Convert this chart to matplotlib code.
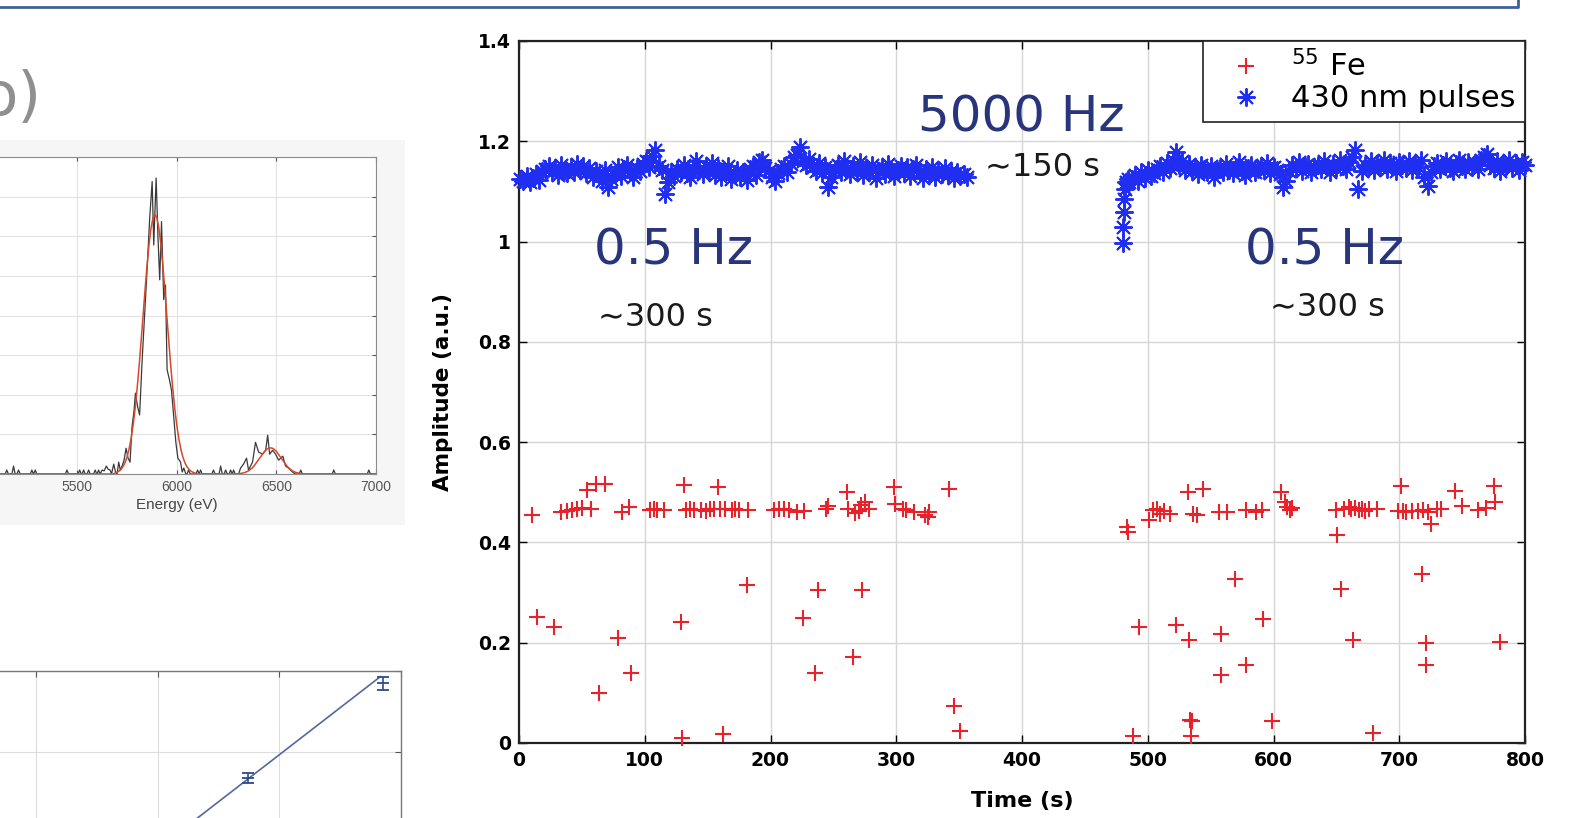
import numpy as np
import matplotlib
matplotlib.use("Agg")
import matplotlib.pyplot as plt
from matplotlib.patches import Rectangle
from matplotlib.lines import Line2D
from matplotlib.ticker import FormatStrFormatter

# ---------------- main chart data: amplitude vs time ----------------
fe_t = [10.2, 14, 27.8, 33.6, 38, 42, 46, 50, 54, 57, 61, 64, 68.7, 79, 82, 87.6, 89,
        104, 107, 110, 115, 128.5, 130, 131.5, 133, 136, 139, 145, 149, 152, 155, 158,
        160, 162, 164, 169, 172, 175, 181, 182, 203, 207, 211, 215, 221, 226, 227, 235,
        238, 244, 246, 261, 262, 266, 267, 270, 272, 273, 275, 278, 298, 299, 305, 308,
        314, 323, 325, 326, 342, 346, 350.6,
        483.7, 484.5, 488, 493, 501, 504, 507, 510, 513, 518, 522.5, 532, 533, 533.3,
        535, 534, 536, 539.5, 544, 556.6, 558, 558.5, 563, 569, 578, 578.5, 586, 591,
        592, 599, 606, 609, 611, 613, 615, 650, 650.5, 654, 656, 660, 662, 663.5, 665,
        668, 670, 673, 676, 679, 682, 699, 701, 703, 705, 710, 715, 718, 719, 721,
        721.5, 723, 725.6, 730, 733, 744, 750, 763, 769, 775, 776, 780]
fe_amp = [0.454, 0.251, 0.231, 0.461, 0.462, 0.465, 0.466, 0.468, 0.504, 0.467, 0.517,
          0.10, 0.517, 0.209, 0.461, 0.471, 0.139, 0.464, 0.466, 0.464, 0.464, 0.242,
          0.01, 0.514, 0.464, 0.466, 0.464, 0.465, 0.463, 0.467, 0.466, 0.51, 0.466,
          0.017, 0.467, 0.464, 0.466, 0.464, 0.315, 0.464, 0.465, 0.466, 0.466, 0.464,
          0.461, 0.249, 0.462, 0.139, 0.305, 0.467, 0.472, 0.50, 0.466, 0.172, 0.458,
          0.462, 0.474, 0.305, 0.48, 0.467, 0.51, 0.477, 0.466, 0.464, 0.461, 0.454,
          0.45, 0.461, 0.507, 0.073, 0.023,
          0.43, 0.42, 0.013, 0.232, 0.444, 0.464, 0.467, 0.457, 0.462, 0.457, 0.235,
          0.50, 0.205, 0.046, 0.043, 0.013, 0.457, 0.454, 0.507, 0.46, 0.218, 0.136,
          0.46, 0.328, 0.464, 0.156, 0.46, 0.464, 0.248, 0.043, 0.50, 0.48, 0.47, 0.465,
          0.468, 0.464, 0.414, 0.308, 0.466, 0.47, 0.467, 0.205, 0.468, 0.465, 0.467,
          0.463, 0.466, 0.02, 0.467, 0.462, 0.513, 0.462, 0.46, 0.462, 0.462, 0.338,
          0.465, 0.199, 0.156, 0.46, 0.437, 0.466, 0.467, 0.503, 0.473, 0.465, 0.468,
          0.513, 0.48, 0.202]

# 430 nm pulses, first 0.5 Hz period (one value every 2.5 s from t = 1 s)
blue1_amp = [1.125, 1.120, 1.130, 1.118, 1.127, 1.135, 1.122, 1.140, 1.145, 1.150,
             1.138, 1.147, 1.132, 1.152, 1.141, 1.136, 1.148, 1.139, 1.155, 1.143,
             1.150, 1.137, 1.146, 1.128, 1.140, 1.133, 1.121, 1.142, 1.108, 1.125,
             1.135, 1.148, 1.130, 1.144, 1.152, 1.139, 1.128, 1.146, 1.141, 1.155,
             1.160, 1.148, 1.170, 1.182, 1.150, 1.142, 1.095, 1.118, 1.138, 1.131,
             1.145, 1.139, 1.152, 1.136, 1.128, 1.147, 1.160, 1.142, 1.134, 1.150,
             1.141, 1.156, 1.133, 1.146, 1.128, 1.138, 1.151, 1.124, 1.135, 1.142,
             1.129, 1.138, 1.122, 1.145, 1.150, 1.132, 1.158, 1.163, 1.147, 1.140,
             1.128, 1.120, 1.136, 1.144, 1.150, 1.138, 1.155, 1.168, 1.172, 1.188,
             1.160, 1.152, 1.165, 1.148, 1.141, 1.156, 1.137, 1.149, 1.108, 1.128,
             1.143, 1.152, 1.138, 1.160, 1.147, 1.135, 1.150, 1.142, 1.158, 1.133,
             1.146, 1.139, 1.152, 1.127, 1.141, 1.148, 1.135, 1.155, 1.144, 1.130,
             1.142, 1.150, 1.136, 1.148, 1.131, 1.145, 1.153, 1.139, 1.127, 1.144,
             1.137, 1.148, 1.129, 1.141, 1.135, 1.146, 1.132, 1.140, 1.127, 1.138,
             1.130, 1.134, 1.128]
# recovery right after the 5000 Hz burst
ramp_t = [480, 480.5, 481, 481.5, 482, 483, 484]
ramp_amp = [0.998, 1.03, 1.058, 1.085, 1.105, 1.118, 1.125]
# second 0.5 Hz period (one value every 2.5 s from t = 485 s)
blue2_amp = [1.118, 1.125, 1.132, 1.121, 1.138, 1.127, 1.142, 1.130, 1.136, 1.145,
             1.150, 1.138, 1.156, 1.147, 1.162, 1.178, 1.152, 1.160, 1.143, 1.155,
             1.140, 1.148, 1.135, 1.152, 1.144, 1.138, 1.150, 1.128, 1.142, 1.147,
             1.139, 1.154, 1.143, 1.136, 1.149, 1.158, 1.141, 1.133, 1.146, 1.152,
             1.138, 1.145, 1.150, 1.142, 1.156, 1.137, 1.148, 1.143, 1.135, 1.108,
             1.120, 1.140, 1.152, 1.146, 1.158, 1.141, 1.150, 1.155, 1.139, 1.148,
             1.153, 1.144, 1.160, 1.149, 1.138, 1.155, 1.147, 1.162, 1.151, 1.145,
             1.158, 1.168, 1.182, 1.104, 1.140, 1.152, 1.147, 1.160, 1.143, 1.155,
             1.149, 1.162, 1.145, 1.156, 1.150, 1.141, 1.158, 1.152, 1.146, 1.160,
             1.143, 1.155, 1.149, 1.162, 1.128, 1.110, 1.138, 1.150, 1.156, 1.145,
             1.152, 1.160, 1.147, 1.141, 1.155, 1.163, 1.150, 1.144, 1.158, 1.149,
             1.156, 1.145, 1.162, 1.168, 1.175, 1.153, 1.147, 1.160, 1.141, 1.155,
             1.150, 1.162, 1.146, 1.157, 1.143, 1.158, 1.152]

time_ticks = [0, 100, 200, 300, 400, 500, 600, 700, 800]
amp_ticks = [0, 0.2, 0.4, 0.6, 0.8, 1.0, 1.2, 1.4]

# ---------------- left panels (partly cut off slide images) ----------------
spec_e = [5000, 5138, 5146, 5154, 5172, 5180, 5188, 5197, 5205, 5213, 5264, 5272, 5280,
          5281, 5289, 5297, 5440, 5448, 5456, 5504, 5512, 5520, 5524, 5532, 5540, 5549,
          5557, 5565, 5582, 5590, 5598, 5600, 5607, 5615, 5625, 5635, 5646, 5655, 5665,
          5672, 5683, 5692, 5700, 5708, 5716, 5725, 5735, 5745, 5755, 5765, 5775, 5785,
          5792, 5803, 5813, 5825, 5838, 5851, 5863, 5876, 5884, 5896, 5905, 5914, 5923,
          5934, 5943, 5951, 5962, 5973, 5985, 5995, 6005, 6018, 6027, 6035, 6045, 6051,
          6059, 6067, 6096, 6104, 6112, 6119, 6127, 6176, 6184, 6192, 6212, 6220, 6228,
          6237, 6245, 6253, 6262, 6270, 6278, 6285, 6293, 6310, 6320, 6335, 6350, 6360,
          6380, 6395, 6411, 6431, 6446, 6456, 6466, 6481, 6496, 6511, 6532, 6546, 6561,
          6581, 6595, 6614, 6622, 6630, 6780, 6788, 6796, 6956, 6964, 6972, 7000]
spec_counts = [0, 0, 1, 0, 0, 2, 0, 0, 1, 0, 0, 1, 0,
               0, 1, 0, 0, 1, 0, 0, 1, 0, 0, 1, 0, 0,
               1, 0, 0, 1, 0, 0, 1, 0, 1, 0.8, 2, 1.2, 1,
               0, 2.5, 0.5, 0, 3, 1, 2, 3.5, 6.5, 4, 3, 12, 16,
               20.4, 17, 14.9, 28, 40, 52, 64, 73.8, 57.8, 74.7, 60, 49, 63.7,
               44, 47.7, 26.3, 24, 21.2, 14, 8, 4, 3.1, 0.5, 1.5, 0, 0,
               1, 0, 0, 1, 0, 1, 0, 0, 1, 0, 0, 2, 0,
               0, 1, 0, 0, 1, 0, 1, 0, 0, 1.5, 2.5, 4, 1,
               3, 8, 5.5, 5, 6, 9.8, 5, 6, 5, 3.5, 4.5, 2, 1.5,
               0.5, 0, 0, 1, 0, 0, 1, 0, 0, 1, 0, 0]

fit_e = ([5000, 5680] + list(range(5690, 6100, 10)) + [6100, 6310]
         + list(range(6320, 6630, 10)) + [6630, 7000])
fit_counts = ([0, 0]
              + [0.25, 0.45, 0.75, 1.2, 1.9, 2.9, 4.3, 6.3, 8.9, 12.2, 16.3, 21.3, 26.9,
                 33.2, 39.7, 46.3, 52.4, 57.8, 62.0, 64.6, 65.5, 64.6, 62.0, 57.8, 52.4,
                 46.3, 39.7, 33.2, 26.9, 21.3, 16.3, 12.2, 8.9, 6.3, 4.3, 2.9, 1.9, 1.2,
                 0.75, 0.45, 0.25]
              + [0, 0]
              + [0.14, 0.23, 0.36, 0.56, 0.8, 1.2, 1.6, 2.2, 2.9, 3.6, 4.3, 5.0, 5.7,
                 6.2, 6.5, 6.6, 6.5, 6.2, 5.7, 5.0, 4.3, 3.6, 2.9, 2.2, 1.6, 1.2, 0.8,
                 0.56, 0.36, 0.23, 0.14]
              + [0, 0])
energy_ticks = [5500, 6000, 6500, 7000]

cal_x = [2.745, 3.85]
cal_y = [1.68, 2.85]
cal_err = [0.06, 0.08]
cal_fit_x = [2.0, 3.83]
cal_fit_y = [0.805, 2.93]

# ---------------- figure ----------------
W, H = 1571, 818
fig = plt.figure(figsize=(W / 100, H / 100), dpi=100)
fig.patch.set_facecolor("white")


def px_rect(x0, y0, x1, y1):
    # pixel box (top-left origin) -> figure fraction [left, bottom, width, height]
    return [x0 / W, 1 - y1 / H, (x1 - x0) / W, (y1 - y0) / H]


# slide frame edge at the top
fig.add_artist(Line2D([0, 1518 / W, 1518 / W], [1 - 7 / H, 1 - 7 / H, 1.0],
                      transform=fig.transFigure, color="#3c6397", lw=2.0))
# cut-off title fragment
fig.text(42 / W, 1 - 115 / H, "o)", fontsize=44, color="#8f8f8f",
         family="DejaVu Sans", ha="right", va="baseline")

# light panel behind the spectrum image
fig.add_artist(Rectangle((0, 1 - 525 / H), 405 / W, 385 / H, transform=fig.transFigure,
                         facecolor="#f6f6f6", edgecolor="none", zorder=0))

# --- spectrum panel (top left) ---
ax_s = fig.add_axes(px_rect(-22.3, 157, 376, 474))
ax_s.plot(spec_e, spec_counts, color="#3a3a3a", lw=0.9)
ax_s.plot(fit_e, fit_counts, color="#d9472b", lw=1.1)
ax_s.set_xlim(5000, 7000)
ax_s.set_ylim(0, 80)
ax_s.set_xticks(energy_ticks)
ax_s.set_yticks(range(0, 81, 10))
ax_s.grid(True, color="#e2e2e2", lw=0.8)
ax_s.tick_params(direction="in", top=True, right=True, labelleft=False,
                 colors="#555555", labelsize=10, length=3, pad=4)
for lab in ax_s.get_xticklabels():
    lab.set_family("Liberation Sans")
for sp in ax_s.spines.values():
    sp.set_color("#8c8c8c")
    sp.set_linewidth(0.8)
ax_s.set_xlabel("Energy (eV)", fontsize=11, color="#444444", family="Liberation Sans",
                labelpad=3)

# --- calibration panel (bottom left) ---
ax_c = fig.add_axes(px_rect(-85.7, 671, 401, 833))
ax_c.plot(cal_fit_x, cal_fit_y, color="#5468a0", lw=1.2)
ax_c.errorbar(cal_x, cal_y, yerr=cal_err, fmt="_", color="#2d4a8a", ms=9, mew=1.3,
              capsize=4, elinewidth=1.2, capthick=1.2)
ax_c.set_xlim(0, 4)
ax_c.set_ylim(1, 3)
ax_c.set_xticks([1, 2, 3, 4])
ax_c.set_yticks([1, 2, 3])
ax_c.grid(True, color="#dddddd", lw=0.8)
ax_c.tick_params(direction="in", top=True, right=True, labelleft=False,
                 labelbottom=False, colors="#555555", length=4)
for sp in ax_c.spines.values():
    sp.set_color("#777777")
    sp.set_linewidth(1.0)

# --- main chart ---
ax = fig.add_axes(px_rect(519, 41, 1525, 743))
ax.plot(fe_t, fe_amp, linestyle="none", marker="+", ms=12, mew=1.5, color="#e8212b",
        label=r"$^{55}$ Fe", clip_on=False, zorder=3)
blue1_t = 1.0 + 2.5 * np.arange(len(blue1_amp))
blue2_t = 485.0 + 2.5 * np.arange(len(blue2_amp))
blue_style = dict(linestyle="none", marker=(8, 2, 0), ms=13, mew=1.4, color="#1f2ef0",
                  clip_on=False, zorder=3)
ax.plot(blue1_t, blue1_amp, label="430 nm pulses", **blue_style)
ax.plot(ramp_t, ramp_amp, **blue_style)
ax.plot(blue2_t, blue2_amp, **blue_style)

ax.set_xlim(0, 800)
ax.set_ylim(0, 1.4)
ax.set_xticks(time_ticks)
ax.set_yticks(amp_ticks)
ax.yaxis.set_major_formatter(FormatStrFormatter("%g"))
ax.grid(True, color="#d6d6d6", lw=1.0)
ax.set_axisbelow(True)
ax.tick_params(direction="in", top=True, right=True, length=6, width=1.0, pad=6,
               labelsize=13.5)
for lab in ax.get_xticklabels() + ax.get_yticklabels():
    lab.set_fontweight("bold")
for sp in ax.spines.values():
    sp.set_linewidth(1.6)
    sp.set_color("#222222")

ax.set_xlabel("Time (s)", fontsize=16, fontweight="bold")
ax.set_ylabel("Amplitude (a.u.)", fontsize=15.5, fontweight="bold")
ax.xaxis.set_label_coords(0.5, -0.069)
ax.yaxis.set_label_coords(-0.066, 0.5)

navy = "#28357c"
ax.text(317, 1.247, "5000 Hz", fontsize=36, color=navy, ha="left", va="center")
ax.text(60, 0.983, "0.5 Hz", fontsize=36, color=navy, ha="left", va="center")
ax.text(577, 0.983, "0.5 Hz", fontsize=36, color=navy, ha="left", va="center")
ax.text(63, 0.848, "\u223c300 s", fontsize=23, color="#1a1a1a", ha="left", va="center")
ax.text(597, 0.868, "\u223c300 s", fontsize=23, color="#1a1a1a", ha="left", va="center")
ax.text(370.5, 1.147, "\u223c150 s", fontsize=23, color="#1a1a1a", ha="left", va="center")

leg = ax.legend(loc="upper right", bbox_to_anchor=(1.0, 1.0), borderaxespad=0,
                fontsize=22, frameon=True, fancybox=False, framealpha=1,
                edgecolor="#222222", handlelength=2.2, handletextpad=0.4,
                labelspacing=0.05, borderpad=0.3)
leg.get_frame().set_linewidth(1.2)

fig.savefig("out.png", dpi=100)
